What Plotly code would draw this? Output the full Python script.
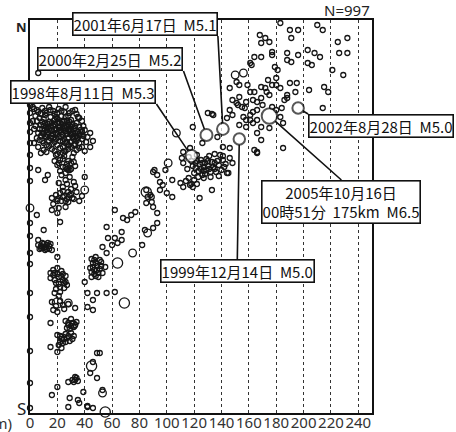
import plotly.graph_objects as go

# Hypocentre cross-section: depth (km) against north-south position (arbitrary units, S=0)

# Shallow events north of the section (magnitude ~2.5)
north_shallow = [
    (3, 304), (6, 301), (9, 305), (12, 300), (15, 303), (18, 299), (21, 304), (25, 301), (28, 297),
    (31, 302), (34, 299), (36, 295), (5, 292), (8, 288), (10, 294), (12, 286), (14, 291), (16, 283),
    (18, 289), (20, 294), (22, 286), (24, 291), (26, 282), (28, 288), (30, 293), (32, 284), (34, 290),
    (36, 286), (38, 281), (6, 280), (9, 284), (11, 277), (13, 281), (15, 275), (17, 279), (19, 284),
    (21, 276), (23, 281), (25, 274), (27, 279), (29, 284), (31, 276), (33, 280), (35, 275), (37, 278),
    (40, 283), (7, 273), (10, 270), (14, 272), (18, 271), (22, 272), (26, 270), (30, 271), (34, 272),
    (38, 274), (42, 276), (20, 290), (25, 287), (15, 296), (30, 279), (12, 276), (28, 275), (9, 291),
    (33, 287), (17, 287), (24, 278), (44, 280), (6, 266), (10, 263), (14, 267), (18, 262), (22, 265),
    (26, 262), (30, 266), (34, 263), (38, 266), (40, 262), (6, 340), (4, 297), (7, 295), (11, 298),
    (19, 296), (23, 297), (27, 292), (31, 289), (35, 281), (13, 289), (21, 282), (29, 279), (8, 277),
    (16, 277), (24, 284), (32, 274), (36, 270), (19, 274), (11, 283), (27, 286), (39, 287),
    (2, 306), (5, 303), (8, 299), (11, 302), (14, 306), (17, 302), (20, 300), (23, 302), (26, 306),
    (29, 300), (33, 303), (4, 287), (7, 284), (10, 279), (13, 285), (16, 290), (19, 280), (22, 283),
    (25, 292), (28, 283), (31, 281), (34, 277), (37, 283), (39, 277), (41, 271), (5, 275), (9, 272),
    (12, 268), (16, 269), (20, 268), (24, 266), (28, 268), (32, 268), (36, 265), (8, 260), (12, 261),
    (16, 264), (20, 259), (24, 260), (28, 264), (32, 260), (3, 284), (3, 270), (2, 292), (44, 266),
    (46, 272), (38, 292), (35, 296), (23, 289), (26, 296), (29, 291), (18, 293), (14, 284), (10, 287),
    (21, 286), (27, 271), (33, 269), (30, 286), (17, 275), (13, 278), (20, 279), (23, 276), (26, 285),
    (15, 287), (18, 283), (21, 291), (30, 283), (33, 276), (36, 279), (24, 272), (11, 290), (9, 280),
]

north_lower = [
    (19, 258), (22, 253), (25, 257), (28, 252), (31, 256), (20, 248), (24, 246), (27, 249), (30, 244),
    (33, 247), (22, 242), (26, 240), (29, 243), (32, 251), (18, 252), (25, 262), (6, 243), (13, 238),
    (11, 233), (26, 246), (28, 243), (40, 236), (21, 230), (24, 226), (27, 229), (30, 224),
    (33, 227), (22, 220), (25, 217), (28, 221), (31, 215), (20, 214), (26, 212), (29, 218), (32, 231),
    (16, 215), (20, 212), (24, 216), (28, 211), (32, 214), (36, 212), (38, 217), (16, 203), (20, 200),
    (26, 206), (22, 191), (10, 183), (6, 173), (5, 198), (21, 250), (24, 254), (27, 244), (30, 250),
    (23, 238), (26, 233), (29, 236), (24, 222), (27, 214), (30, 219), (23, 212), (19, 218), (34, 221),
    (17, 209), (21, 205),
]

south_shallow = [
    (6, 168), (8, 165), (10, 169), (12, 164), (14, 167), (16, 163), (9, 170), (13, 170), (7, 164),
    (15, 169), (11, 166), (20, 156), (17, 143), (20, 139), (23, 142), (26, 137), (18, 133), (21, 129),
    (24, 133), (27, 128), (19, 124), (22, 121), (25, 125), (17, 138), (23, 136), (20, 145), (26, 131),
    (15, 135), (15, 140), (16, 111), (19, 107), (22, 112), (25, 104), (28, 109), (20, 101), (24, 108),
    (17, 103), (33, 105), (42, 106), (46, 103), (46, 113), (15, 90), (26, 92), (28, 88), (30, 94),
    (32, 86), (34, 91), (29, 84), (31, 90), (20, 78), (23, 74), (26, 79), (29, 72), (32, 77), (22, 71),
    (27, 75), (30, 80), (24, 70), (15, 66), (20, 61), (23, 65), (49, 60), (46, 51), (51, 60), (44, 40),
    (49, 35), (33, 33), (34, 35), (32, 31), (28, 31), (20, 26), (16, 18), (29, 15), (35, 13), (42, 6),
    (53, 23), (28, 6), (46, 5), (39, 21), (36, 10), (42, 7), (8, 167), (10, 165), (12, 168), (14, 164),
    (9, 166), (11, 163), (18, 140), (21, 136), (24, 139), (19, 130), (22, 126), (25, 130), (18, 120),
    (21, 117), (28, 90), (30, 87), (27, 85), (33, 88), (25, 74), (28, 77), (22, 77), (31, 74), (21, 68),
    (26, 71), (33, 36), (31, 33), (35, 32),
]

slab_middle = [
    (62, 203), (71, 193), (74, 198), (77, 201), (68, 195), (56, 186), (67, 181), (62, 175), (57, 175),
    (53, 166), (60, 168), (64, 170), (67, 173), (45, 154), (48, 150), (51, 153), (46, 146), (49, 143),
    (52, 147), (47, 139), (50, 136), (53, 140), (45, 141), (48, 156), (56, 160), (55, 146), (40, 131),
    (45, 136), (42, 120), (49, 120), (56, 120), (62, 121), (85, 223), (86, 216), (85, 210), (89, 211),
    (88, 218), (100, 220), (104, 216), (95, 223), (93, 200), (90, 185), (93, 190), (84, 183), (82, 168),
    (124, 215), (46, 150), (49, 147), (52, 151), (47, 143), (50, 140), (48, 137), (51, 144), (44, 145),
    (47, 153),
]

slab_upper = [
    (133, 299), (151, 310), (155, 306), (161, 298), (158, 293), (163, 290), (164, 263), (166, 260),
    (119, 286), (126, 270), (137, 276), (146, 265), (141, 266), (112, 261), (117, 265), (122, 258),
    (111, 255), (112, 250), (116, 256), (119, 247), (122, 252), (125, 244), (128, 250), (131, 257),
    (134, 246), (137, 252), (140, 243), (143, 249), (146, 255), (120, 240), (126, 238), (132, 241),
    (138, 237), (144, 240), (115, 244), (129, 254), (135, 259), (123, 236), (141, 257), (118, 252),
    (127, 246), (99, 243), (91, 243), (90, 241), (93, 238), (95, 231), (97, 228), (104, 233),
    (110, 230), (117, 228), (120, 233), (118, 229), (112, 226), (133, 223), (145, 240), (89, 216),
    (90, 206), (139, 258), (135, 250), (141, 253), (148, 250), (130, 300), (134, 298), (121, 245),
    (124, 249), (127, 242), (130, 247), (133, 251), (128, 239), (131, 244), (125, 253), (136, 241),
    (114, 232), (116, 235), (119, 226), (122, 229), (123, 242), (126, 250), (129, 243), (132, 236),
    (135, 244), (138, 248), (142, 246), (130, 252), (127, 235), (121, 250),
]

deep_north = [
    (168, 378), (172, 375), (175, 371), (169, 370), (177, 361), (177, 358), (169, 356), (164, 356),
    (161, 350), (162, 348), (190, 383), (196, 383), (191, 375), (183, 390), (210, 388), (214, 383),
    (225, 371), (232, 375), (226, 360), (232, 360), (221, 343), (229, 338), (188, 360), (188, 353),
    (191, 351), (196, 358), (203, 363), (208, 360), (212, 356), (203, 350), (206, 348), (204, 323),
    (215, 326), (218, 321), (214, 305), (194, 321), (190, 330), (195, 330), (179, 346), (181, 343),
    (180, 335), (174, 333), (177, 328), (180, 328), (183, 325), (188, 315), (188, 318), (186, 313),
    (173, 321), (175, 318), (172, 325), (169, 326), (151, 331), (146, 325), (153, 328), (159, 328),
    (164, 321), (161, 321), (169, 315), (166, 311), (158, 311), (163, 313), (153, 316), (148, 313),
    (152, 308), (157, 305), (163, 301), (166, 303), (170, 308), (177, 306), (180, 303), (184, 305),
    (183, 296), (185, 290), (175, 285), (169, 286), (166, 293), (161, 293), (156, 296), (148, 298),
    (146, 303), (144, 295), (158, 286), (153, 288), (166, 280), (166, 261), (185, 265), (169, 273),
]

on_axis = [
    (0, 308), (0, 300), (0, 290), (0, 281), (0, 270), (0, 258), (0, 245), (0, 232), (0, 190),
    (0, 177), (0, 160), (0, 149), (0, 120), (0, 96), (0, 62), (0, 30), (0, 5),
]

# Moderate events (magnitude ~3.5) and larger events (magnitude ~4.5)
moderate = [
    (75, 160), (53, 20), (28, 110), (32, 88), (24, 75), (101, 250), (107, 280), (40, 223),
    (86, 180), (150, 338), (156, 340), (0, 205),
]
larger = [(64, 150), (69, 110), (45, 47), (55, 1), (85, 221), (20, 110)]

# Named events with their annotation text
event_depth = [118, 129, 141, 153, 196, 175]
event_ns = [257, 278, 284, 274, 305, 297]
event_mag = [5.3, 5.2, 5.1, 5.0, 5.0, 6.5]
event_text = [
    "1998年8月11日  M5.3",
    "2000年2月25日  M5.2",
    "2001年6月17日  M5.1",
    "1999年12月14日  M5.0",
    "2002年8月28日  M5.0",
    "2005年10月16日<br>00時51分  175km  M6.5",
]
n_events = 997

depth_ticks = list(range(0, 241, 20))


def msize(m):
    return 2.6 * m - 1.5


fig = go.Figure()

background_groups = [
    (north_shallow + north_lower + south_shallow + slab_middle + slab_upper + deep_north + on_axis, 2.5),
    (moderate, 3.5),
    (larger, 4.5),
]
for pts, mag in background_groups:
    fig.add_trace(go.Scatter(
        x=[p[0] for p in pts], y=[p[1] for p in pts], mode="markers",
        marker=dict(symbol="circle-open", size=msize(mag), color="#161616",
                    line=dict(width=1.3, color="#161616")),
        cliponaxis=False, hoverinfo="skip", showlegend=False,
    ))

fig.add_trace(go.Scatter(
    x=event_depth, y=event_ns, mode="markers",
    marker=dict(symbol="circle", size=[msize(m) for m in event_mag], color="white",
                line=dict(width=2, color="#111")),
    cliponaxis=False, hoverinfo="skip", showlegend=False,
))

# Callout offsets (pixels) and box anchoring for each named event
callouts = [
    dict(ax=-35, ay=-52, xanchor="right", yanchor="bottom"),
    dict(ax=-23, ay=-64, xanchor="right", yanchor="bottom"),
    dict(ax=-5, ay=-93, xanchor="right", yanchor="bottom"),
    dict(ax=-2, ay=120, xanchor="center", yanchor="top"),
    dict(ax=10, ay=6, xanchor="left", yanchor="top"),
    dict(ax=72, ay=64, xanchor="center", yanchor="top"),
]
for d, n, m, t, c in zip(event_depth, event_ns, event_mag, event_text, callouts):
    fig.add_annotation(
        x=d, y=n, text=t, showarrow=True, arrowhead=0, arrowwidth=1.6, arrowcolor="#111",
        standoff=msize(m) / 2, bgcolor="white", bordercolor="#111", borderwidth=1.6, borderpad=0,
        font=dict(family="Noto Sans CJK JP", size=15, color="#111"), **c,
    )

fig.add_annotation(xref="paper", yref="paper", x=-0.004, y=1.01, text="<b>N</b>", showarrow=False,
                   xanchor="right", yanchor="top", font=dict(family="Noto Sans", size=13, color="#222"))
fig.add_annotation(xref="paper", yref="paper", x=-0.006, y=-0.022, text="S", showarrow=False,
                   xanchor="right", yanchor="bottom", font=dict(family="Noto Sans", size=17, color="#222"))
fig.add_annotation(xref="paper", yref="paper", x=1.0, y=1.0, text=f"N={n_events}", showarrow=False,
                   xanchor="right", yanchor="bottom", yshift=-2,
                   font=dict(family="Noto Sans", size=15, color="#222"))
fig.add_annotation(xref="paper", yref="paper", x=-0.047, y=-0.026, text="(km)", showarrow=False,
                   xanchor="right", yanchor="middle", font=dict(family="Noto Sans", size=15, color="#333"))

fig.update_xaxes(
    range=[0, 250], tickvals=depth_ticks, ticks="", ticklen=0, tickangle=0, automargin=False,
    ticklabelstandoff=-5, showgrid=True, griddash="dot", gridcolor="#333", gridwidth=1,
    zeroline=False, showline=True, mirror=True, linecolor="#111", linewidth=2,
    tickfont=dict(family="Noto Sans", size=15, color="#333"),
)
fig.update_yaxes(
    range=[0, 393], showticklabels=False, ticks="", showgrid=False, zeroline=False,
    automargin=False, showline=True, mirror=True, linecolor="#111", linewidth=2,
)
fig.update_layout(
    width=456, height=432, margin=dict(l=30, r=84, t=20, b=19, autoexpand=False),
    plot_bgcolor="white", paper_bgcolor="white",
)

fig.write_html("out.html")
